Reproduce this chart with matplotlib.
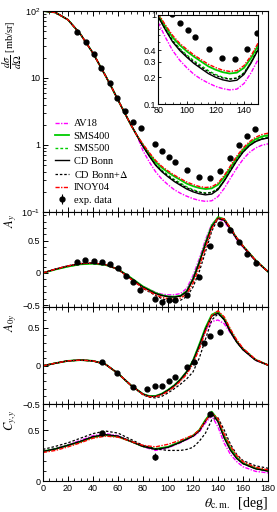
import matplotlib
matplotlib.use("Agg")
import matplotlib.pyplot as plt
from matplotlib.ticker import MultipleLocator, FixedLocator, NullFormatter

plt.rcParams['font.family'] = ['Liberation Sans', 'DejaVu Sans']
plt.rcParams['mathtext.fontset'] = 'stix'

models = ["AV18", "SMS400", "SMS500", "CD Bonn", r"CD Bonn+$\Delta$", "INOY04"]
colors = ["#ff00ff", "#00cc00", "#00cc00", "black", "black", "#ff0000"]
styles = [(0, (3, 1, 1, 1)), "-", (0, (2, 1.5)), "-", (0, (2, 1.5)), (0, (3, 1, 1, 1))]
widths = [1.0, 1.3, 1.0, 1.0, 0.9, 1.0]

# cross section dsigma/dOmega [mb/sr]
cs_ang = [0, 10, 20, 30, 40, 50, 55, 60, 65, 70, 75,
          80, 85, 90, 95, 100, 105, 110, 115, 120, 125, 130,
          135, 140, 145, 150, 155, 160, 165, 170, 175, 180]
cs_fwd = [100, 95, 74, 45, 23.5, 10.8, 7.2, 4.7, 3.1, 2.05, 1.4]
cs_av18 = [0.82, 0.56, 0.40, 0.31, 0.255, 0.215, 0.19, 0.172, 0.158, 0.149, 0.144,
           0.147, 0.17, 0.225, 0.32, 0.45, 0.61, 0.77, 0.9, 0.99, 1.04]
cs_sms400 = [1.0, 0.74, 0.56, 0.46, 0.39, 0.34, 0.30, 0.265, 0.243, 0.228, 0.22,
             0.225, 0.255, 0.33, 0.46, 0.64, 0.85, 1.05, 1.22, 1.34, 1.40]
cs_sms500 = [0.97, 0.70, 0.52, 0.42, 0.355, 0.305, 0.27, 0.237, 0.215, 0.2, 0.192,
             0.196, 0.225, 0.30, 0.43, 0.60, 0.81, 1.0, 1.16, 1.27, 1.32]
cs_cdb = [0.95, 0.68, 0.50, 0.40, 0.335, 0.285, 0.25, 0.22, 0.20, 0.187, 0.18,
          0.185, 0.215, 0.29, 0.41, 0.58, 0.78, 0.97, 1.12, 1.22, 1.27]
cs_cdbd = [0.96, 0.69, 0.51, 0.41, 0.345, 0.295, 0.26, 0.23, 0.21, 0.196, 0.19,
           0.195, 0.222, 0.295, 0.42, 0.59, 0.79, 0.98, 1.13, 1.23, 1.28]
cs_inoy = [1.03, 0.77, 0.59, 0.48, 0.41, 0.355, 0.315, 0.28, 0.257, 0.24, 0.232,
           0.237, 0.27, 0.35, 0.49, 0.68, 0.9, 1.11, 1.3, 1.43, 1.5]
cs_exp_ang = [27.2, 34, 40.6, 46.7, 53.4, 59.2, 65.4, 72, 78.7, 89.4, 95, 100.6,
              105.4, 115.2, 124.6, 133.4, 141.9, 149.4, 156.6, 163.2, 169.9]
cs_exp = [48, 34, 22.8, 14, 8.3, 5.1, 3.2, 2.23, 1.81, 1.03, 0.81, 0.67,
          0.56, 0.42, 0.33, 0.32, 0.41, 0.63, 1.01, 1.36, 1.73]

# A_y
ay_ang = [0, 10, 20, 30, 40, 50, 60, 70, 80, 90, 95, 100, 105, 110, 115, 120,
          125, 130, 135, 140, 145, 150, 155, 160, 170, 180]
ay_av18 = [0, 0.06, 0.11, 0.145, 0.155, 0.13, 0.06, -0.075, -0.21, -0.3, -0.33, -0.34, -0.34,
           -0.32, -0.24, -0.04, 0.22, 0.52, 0.76, 0.85, 0.8, 0.66, 0.52, 0.4, 0.19, 0.02]
ay_sms400 = [0, 0.055, 0.1, 0.135, 0.145, 0.125, 0.06, -0.07, -0.21, -0.31, -0.345, -0.365, -0.37,
             -0.355, -0.28, -0.09, 0.17, 0.47, 0.74, 0.87, 0.84, 0.69, 0.54, 0.42, 0.2, 0.02]
ay_sms500 = [0, 0.055, 0.1, 0.137, 0.147, 0.127, 0.06, -0.075, -0.215, -0.315, -0.35, -0.37, -0.375,
             -0.36, -0.29, -0.11, 0.15, 0.45, 0.73, 0.86, 0.83, 0.69, 0.54, 0.42, 0.2, 0.02]
ay_cdb = [0, 0.06, 0.11, 0.145, 0.155, 0.13, 0.06, -0.08, -0.22, -0.32, -0.35, -0.37, -0.375,
          -0.36, -0.29, -0.1, 0.16, 0.45, 0.72, 0.85, 0.82, 0.68, 0.53, 0.41, 0.19, 0.02]
ay_cdbd = [0, 0.06, 0.11, 0.145, 0.155, 0.13, 0.055, -0.09, -0.24, -0.35, -0.4, -0.43, -0.44,
           -0.425, -0.37, -0.22, 0.02, 0.33, 0.65, 0.85, 0.84, 0.7, 0.55, 0.42, 0.2, 0.02]
ay_inoy = [0, 0.06, 0.11, 0.145, 0.155, 0.13, 0.055, -0.09, -0.235, -0.34, -0.38, -0.40, -0.405,
           -0.39, -0.33, -0.16, 0.09, 0.39, 0.69, 0.86, 0.84, 0.7, 0.55, 0.42, 0.2, 0.02]
ay_exp_ang = [27.5, 33.9, 40.6, 47, 53.4, 59.8, 66.2, 72, 77.9, 89.4, 95.5, 100.8,
              105.4, 115.5, 124.6, 133.4, 141.4, 149.4, 156.8, 163.5, 170.2]
ay_exp = [0.17, 0.2, 0.18, 0.17, 0.14, 0.07, -0.05, -0.14, -0.27, -0.4, -0.45, -0.42,
          -0.42, -0.34, -0.06, 0.42, 0.76, 0.67, 0.48, 0.30, 0.16]

# A_0y
a0_ang = [0, 10, 20, 30, 40, 50, 60, 70, 80, 85, 90, 95, 100, 105, 110, 115, 120,
          125, 130, 135, 140, 145, 150, 155, 160, 170, 180]
a0_av18 = [0, 0.035, 0.065, 0.075, 0.065, 0.02, -0.1, -0.25, -0.37, -0.395, -0.395, -0.365, -0.315,
           -0.255, -0.175, -0.07, 0.07, 0.27, 0.46, 0.58, 0.60, 0.55, 0.43, 0.31, 0.21, 0.07, 0.01]
a0_sms400 = [0, 0.035, 0.065, 0.075, 0.065, 0.02, -0.1, -0.25, -0.37, -0.395, -0.395, -0.365, -0.315,
             -0.255, -0.175, -0.075, 0.07, 0.28, 0.5, 0.67, 0.71, 0.62, 0.46, 0.32, 0.22, 0.08, 0.01]
a0_sms500 = [0, 0.035, 0.065, 0.075, 0.065, 0.02, -0.1, -0.25, -0.37, -0.4, -0.4, -0.37, -0.32,
             -0.26, -0.18, -0.08, 0.065, 0.27, 0.49, 0.66, 0.70, 0.61, 0.45, 0.31, 0.21, 0.075, 0.01]
a0_cdb = [0, 0.035, 0.065, 0.075, 0.065, 0.02, -0.1, -0.25, -0.37, -0.40, -0.40, -0.37, -0.32,
          -0.26, -0.18, -0.08, 0.06, 0.26, 0.48, 0.65, 0.69, 0.6, 0.44, 0.31, 0.21, 0.075, 0.01]
a0_cdbd = [0, 0.035, 0.065, 0.075, 0.065, 0.02, -0.1, -0.25, -0.38, -0.41, -0.42, -0.40, -0.355,
           -0.30, -0.24, -0.17, -0.08, 0.1, 0.35, 0.60, 0.68, 0.61, 0.45, 0.32, 0.22, 0.08, 0.01]
a0_inoy = [0, 0.035, 0.065, 0.075, 0.065, 0.02, -0.1, -0.25, -0.375, -0.405, -0.405, -0.38, -0.335,
           -0.275, -0.2, -0.11, 0.03, 0.22, 0.45, 0.66, 0.72, 0.64, 0.48, 0.34, 0.23, 0.085, 0.01]
a0_exp_ang = [47.5, 59.2, 72, 83.5, 89.4, 95.2, 100.6, 105.4, 115.5, 120.6, 128.8, 133.4, 141.4]
a0_exp = [0.05, -0.09, -0.28, -0.30, -0.26, -0.26, -0.2, -0.145, -0.01, 0.05, 0.30, 0.39, 0.44]

# C_y,y
cy_ang = [0, 10, 20, 30, 40, 50, 60, 70, 80, 90, 100, 110, 115, 120, 125, 130,
          135, 140, 145, 150, 155, 160, 170, 180]
cy_av18 = [0.29, 0.32, 0.355, 0.40, 0.445, 0.465, 0.445, 0.39, 0.335, 0.30, 0.325, 0.375,
           0.405, 0.435, 0.48, 0.57, 0.64, 0.53, 0.37, 0.26, 0.19, 0.14, 0.095, 0.08]
cy_sms400 = [0.29, 0.315, 0.35, 0.385, 0.43, 0.45, 0.435, 0.39, 0.34, 0.315, 0.335, 0.385,
             0.415, 0.445, 0.50, 0.60, 0.68, 0.60, 0.44, 0.32, 0.23, 0.175, 0.125, 0.10]
cy_sms500 = [0.29, 0.315, 0.35, 0.387, 0.432, 0.452, 0.437, 0.39, 0.34, 0.313, 0.333, 0.383,
             0.413, 0.443, 0.495, 0.595, 0.675, 0.59, 0.43, 0.31, 0.225, 0.172, 0.122, 0.10]
cy_cdb = [0.29, 0.315, 0.35, 0.39, 0.435, 0.455, 0.44, 0.39, 0.34, 0.31, 0.33, 0.38,
          0.41, 0.44, 0.49, 0.59, 0.67, 0.58, 0.42, 0.30, 0.22, 0.17, 0.12, 0.098]
cy_cdbd = [0.31, 0.34, 0.375, 0.42, 0.465, 0.49, 0.47, 0.41, 0.35, 0.315, 0.30, 0.30,
           0.31, 0.33, 0.39, 0.47, 0.60, 0.62, 0.50, 0.36, 0.26, 0.20, 0.15, 0.125]
cy_inoy = [0.28, 0.30, 0.335, 0.375, 0.42, 0.44, 0.43, 0.39, 0.35, 0.335, 0.36, 0.40,
           0.425, 0.45, 0.50, 0.59, 0.67, 0.61, 0.46, 0.34, 0.25, 0.19, 0.135, 0.11]
cy_exp_ang = [47.5, 89.4, 133.4]
cy_exp = [0.467, 0.24, 0.66]
cy_err = [0.015, 0.03, 0.02]

cs_models = [cs_fwd + v for v in [cs_av18, cs_sms400, cs_sms500, cs_cdb, cs_cdbd, cs_inoy]]
ay_models = [ay_av18, ay_sms400, ay_sms500, ay_cdb, ay_cdbd, ay_inoy]
a0_models = [a0_av18, a0_sms400, a0_sms500, a0_cdb, a0_cdbd, a0_inoy]
cy_models = [cy_av18, cy_sms400, cy_sms500, cy_cdb, cy_cdbd, cy_inoy]

serif = 'Liberation Serif'
fig = plt.figure(figsize=(2.77, 5.12), dpi=100)
L, W = 43 / 277, 225 / 277
ax1 = fig.add_axes([L, 0.586, W, 0.9785 - 0.586])
ax2 = fig.add_axes([L, 0.4004, W, 0.586 - 0.4004])
ax3 = fig.add_axes([L, 0.2109, W, 0.4004 - 0.2109])
ax4 = fig.add_axes([L, 0.0605, W, 0.2109 - 0.0605])
axin = fig.add_axes([158.3 / 277, 1 - 104 / 512, 100 / 277, 89 / 512])


def draw(ax, ang, curves, ex_ang, ex_val, ex_err, ms=3.5):
    for i in range(len(models)):
        ax.plot(ang, curves[i], color=colors[i], ls=styles[i], lw=widths[i], label=models[i])
    ax.errorbar(ex_ang, ex_val, yerr=ex_err, fmt='o', color='black', ms=ms,
                elinewidth=0.8, capsize=0, label='exp. data', zorder=5)


draw(ax1, cs_ang, cs_models, cs_exp_ang, cs_exp, [0.03 * v for v in cs_exp])
draw(ax2, ay_ang, ay_models, ay_exp_ang, ay_exp, [0.015] * len(ay_exp))
draw(ax3, a0_ang, a0_models, a0_exp_ang, a0_exp, [0.015] * len(a0_exp))
draw(ax4, cy_ang, cy_models, cy_exp_ang, cy_exp, cy_err)
draw(axin, cs_ang, cs_models, cs_exp_ang, cs_exp, None, ms=3.5)

for ax in [ax1, ax2, ax3, ax4]:
    ax.set_xlim(0, 180)
    ax.xaxis.set_major_locator(MultipleLocator(20))
    ax.xaxis.set_minor_locator(MultipleLocator(5))
    ax.tick_params(which='both', direction='in', top=True, right=False, labelsize=6.5, pad=2)
    ax.tick_params(which='major', length=3.5, width=0.7)
    ax.tick_params(which='minor', length=2, width=0.6)
    for s in ax.spines.values():
        s.set_linewidth(0.8)
    if ax is not ax4:
        ax.xaxis.set_major_formatter(NullFormatter())

ax1.set_yscale('log')
ax1.set_ylim(0.1, 100)
ax1.set_yticks([0.1, 1, 10, 100])
ax1.set_yticklabels([r'$\mathregular{10^{-1}}$', '1', '10', r'$\mathregular{10^2}$'])

ax2.set_ylim(-0.53, 0.95)
ax2.set_yticks([-0.5, 0, 0.5])
ax2.set_yticklabels(['\u22120.5', '0', '0.5'])
ax2.yaxis.set_minor_locator(MultipleLocator(0.1))

ax3.set_ylim(-0.5, 0.77)
ax3.set_yticks([-0.5, 0, 0.5])
ax3.set_yticklabels(['\u22120.5', '0', '0.5'])
ax3.yaxis.set_minor_locator(MultipleLocator(0.1))

ax4.set_ylim(0, 0.755)
ax4.set_yticks([0, 0.5])
ax4.set_yticklabels(['0', '0.5'])
ax4.yaxis.set_minor_locator(MultipleLocator(0.1))

axin.set_xlim(80, 150)
axin.set_yscale('log')
axin.set_ylim(0.1, 1)
axin.xaxis.set_major_locator(FixedLocator([80, 100, 120, 140]))
axin.xaxis.set_minor_locator(MultipleLocator(5))
axin.set_yticks([0.1, 0.2, 0.3, 0.4, 1])
axin.set_yticklabels(['0.1', '0.2', '0.3', '0.4', '1'])
axin.yaxis.set_minor_formatter(NullFormatter())
axin.tick_params(which='both', direction='in', labelsize=6.5, pad=1.5)
axin.tick_params(which='major', length=2.5, width=0.6)
axin.tick_params(which='minor', length=1.5, width=0.5)
for s in axin.spines.values():
    s.set_linewidth(0.8)

# y labels placed by pixel centre (x, y from top-left)
def ylab(txt, px, py, size, **kw):
    fig.text(px / 277, 1 - py / 512, txt, rotation=90, ha='center', va='center',
             fontsize=size, **kw)


ylab(r'$\dfrac{d\sigma}{d\Omega}$ [mb/sr]', 12.5, 45, 7.5, family=serif)
ylab(r'$A_y$', 11, 221, 9)
ylab(r'$A_{0y}$', 11, 323, 9)
ylab(r'$C_{y,y}$', 11, 420, 9)

fig.text(268 / 277, 1 - 503 / 512, r'$\theta_{\rm c.m.}$  [deg]', family=serif,
         fontsize=10, ha='right', va='center')

ax1.legend(loc='lower left', bbox_to_anchor=(0.02, 0.0), frameon=False,
           prop={'family': serif, 'size': 7.5}, handlelength=1.4, handletextpad=0.4,
           labelspacing=0.3, borderpad=0.2)

fig.savefig('out.png', dpi=100)
